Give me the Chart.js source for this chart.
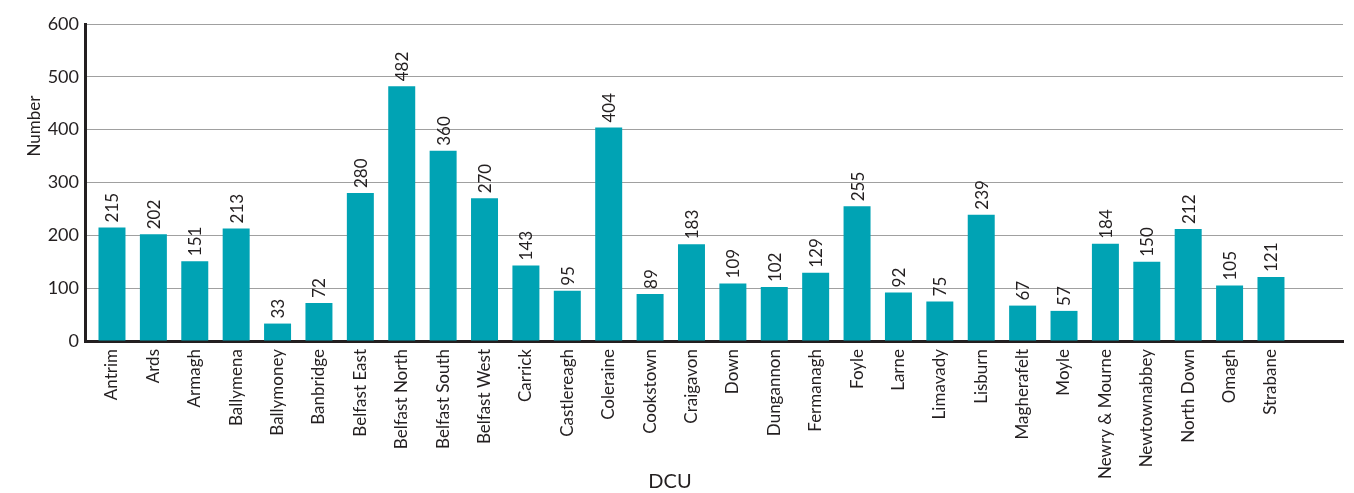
<!DOCTYPE html>
<html lang="en">
<head>
<meta charset="UTF-8" />
<title>DCU chart</title>
<script src="https://cdn.jsdelivr.net/npm/chart.js@4/dist/chart.umd.min.js"></script>
<style>
	html, body { margin: 0; padding: 0; background: #fff; }
	#wrap { width: 1354px; height: 493px; }
</style>
</head>
<body>
<div id="wrap"><canvas id="myChart" width="1354" height="493"></canvas></div>
<script>
	const dcus = ['Antrim', 'Ards', 'Armagh', 'Ballymena', 'Ballymoney', 'Banbridge', 'Belfast East',
		'Belfast North', 'Belfast South', 'Belfast West', 'Carrick', 'Castlereagh', 'Coleraine',
		'Cookstown', 'Craigavon', 'Down', 'Dungannon', 'Fermanagh', 'Foyle', 'Larne', 'Limavady',
		'Lisburn', 'Magherafelt', 'Moyle', 'Newry & Mourne', 'Newtownabbey', 'North Down', 'Omagh', 'Strabane'];
	const numbers = [215, 202, 151, 213, 33, 72, 280, 482, 360, 270, 143, 95, 404, 89, 183, 109,
		102, 129, 255, 92, 75, 239, 67, 57, 184, 150, 212, 105, 121];
	const yTicks = [0, 100, 200, 300, 400, 500, 600];

	const ink = '#231f20';
	const fontFam = 'Lato, "Open Sans", sans-serif';

	// value labels above bars + axis titles
	const labelPlugin = {
		id: 'labels',
		afterDatasetsDraw(chart) {
			const ctx = chart.ctx;
			const meta = chart.getDatasetMeta(0);
			ctx.save();
			ctx.fillStyle = ink;
			ctx.font = '17px ' + fontFam;
			meta.data.forEach((bar, i) => {
				ctx.save();
				ctx.translate(bar.x + 1, bar.y - 5);
				ctx.rotate(-Math.PI / 2);
				ctx.textAlign = 'left';
				ctx.textBaseline = 'middle';
				ctx.fillText(String(numbers[i]), 0, 0);
				ctx.restore();
			});
			// y title
			ctx.font = '17px ' + fontFam;
			ctx.save();
			ctx.translate(35, 126);
			ctx.rotate(-Math.PI / 2);
			ctx.textAlign = 'center';
			ctx.textBaseline = 'middle';
			ctx.fillText('Number', 0, 0);
			ctx.restore();
			// x title
			ctx.font = '20px ' + fontFam;
			ctx.textAlign = 'center';
			ctx.textBaseline = 'middle';
			ctx.fillText('DCU', 670, 482);
			ctx.restore();
		}
	};

	const ctx = document.getElementById('myChart').getContext('2d');
	const myChart = new Chart(ctx, {
		type: 'bar',
		data: {
			datasets: [{
				label: 'Number',
				data: numbers.map((v, i) => ({ x: i, y: v })),
				backgroundColor: '#00a3b4',
				borderWidth: 0,
				barPercentage: 0.652,
				categoryPercentage: 1
			}]
		},
		options: {
			responsive: false,
			animation: false,
			layout: { padding: { left: 0, right: 11, top: 24, bottom: 0 } },
			plugins: {
				legend: { display: false },
				tooltip: { enabled: false }
			},
			scales: {
				x: {
					type: 'linear',
					offset: false,
					bounds: 'data',
					min: -0.652,
					max: 29.74,
					afterBuildTicks: s => { s.ticks = dcus.map((d, i) => ({ value: i })); },
					afterFit: s => { s.height = 152; },
					ticks: {
						autoSkip: false,
						minRotation: 90,
						maxRotation: 90,
						padding: 8,
						color: ink,
						font: { family: fontFam, size: 17 },
						callback: v => dcus[v]
					},
					grid: { display: false, drawTicks: false, offset: false },
					border: { display: true, color: ink, width: 3 }
				},
				y: {
					min: 0,
					max: 600,
					afterBuildTicks: s => { s.ticks = yTicks.map(v => ({ value: v })); },
					afterFit: s => { s.width = 85; },
					ticks: {
						padding: 6,
						color: ink,
						font: { family: fontFam, size: 18 }
					},
					grid: { color: '#a0a0a0', lineWidth: 1, drawTicks: false },
					border: { display: true, color: ink, width: 3 }
				}
			}
		},
		plugins: [labelPlugin]
	});
</script>
</body>
</html>
